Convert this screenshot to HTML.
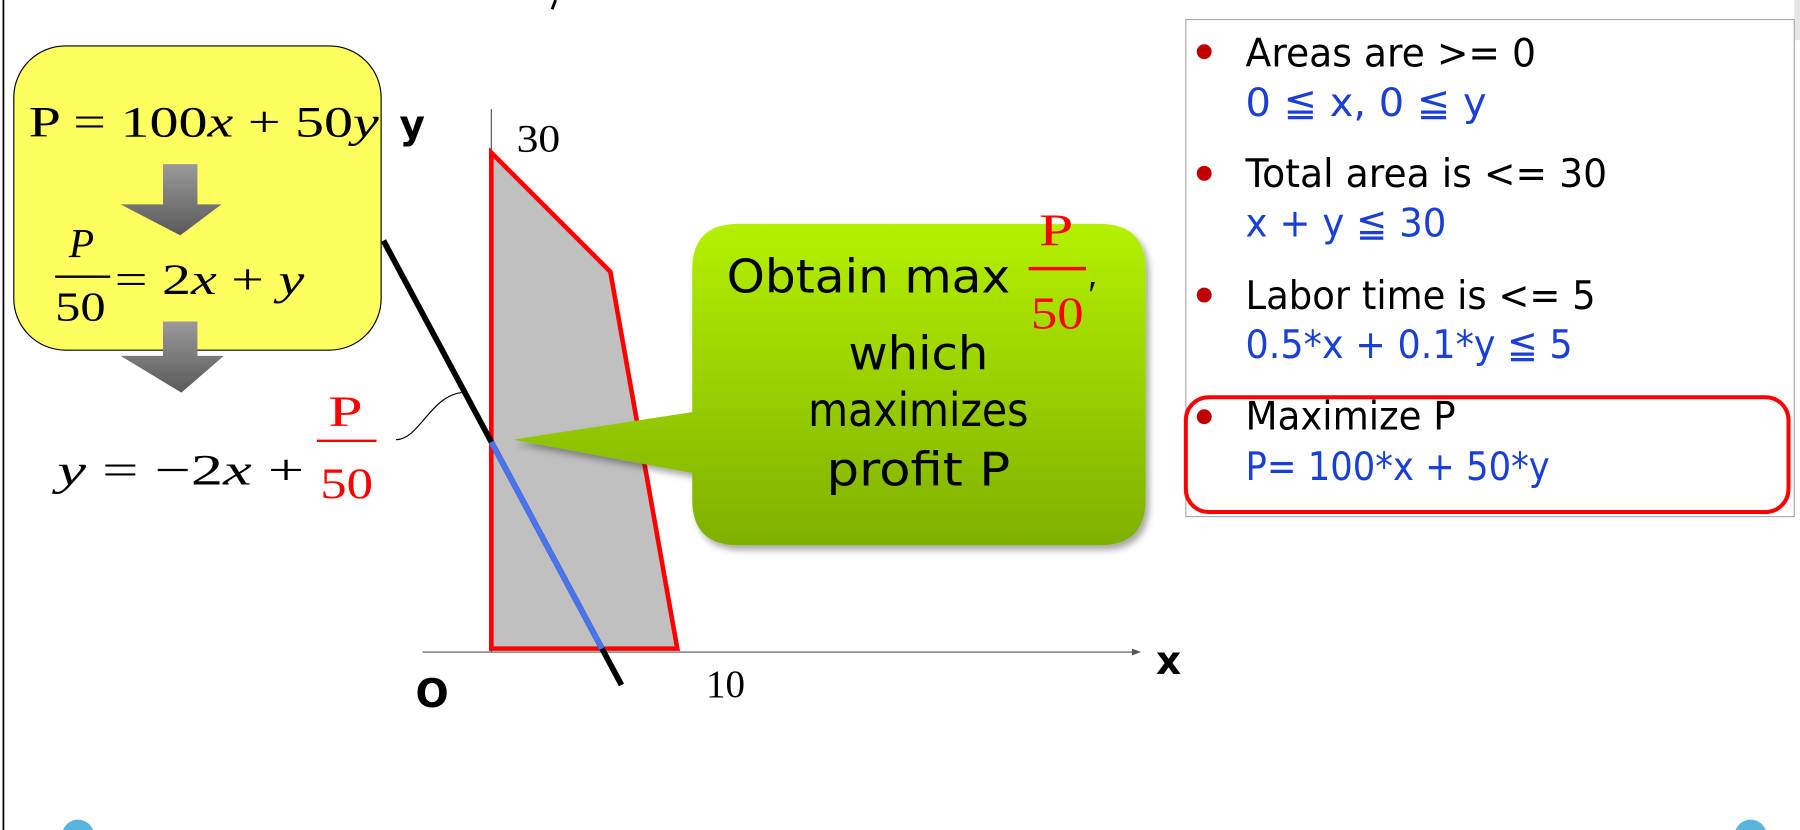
<!DOCTYPE html>
<html><head><meta charset="utf-8"><style>
html,body{margin:0;padding:0;background:#fff;width:1800px;height:830px;overflow:hidden}
svg{display:block}
.s{font-family:"DejaVu Sans","Liberation Sans",sans-serif}
.m{font-family:"Liberation Serif","DejaVu Serif",serif}
</style></head><body>
<svg id="chart" width="1800" height="830" viewBox="0 0 1568 723" xmlns="http://www.w3.org/2000/svg">
<defs>
<linearGradient id="arrowGrad" x1="0" y1="0" x2="0" y2="1"><stop offset="0" stop-color="#9a9a9a"/><stop offset="1" stop-color="#5a5a5a"/></linearGradient>
<linearGradient id="greenGrad" x1="0" y1="0" x2="0" y2="1"><stop offset="0" stop-color="#b4f000"/><stop offset="1" stop-color="#7fb000"/></linearGradient>
<filter id="sh" x="-10%" y="-10%" width="130%" height="130%"><feDropShadow dx="3" dy="4" stdDeviation="3" flood-color="#000" flood-opacity="0.35"/></filter>
</defs>
<line x1="3" y1="0" x2="3" y2="723" stroke="#000" stroke-width="1.5"/>
<rect x="1563" y="0" width="5" height="35" fill="#e6e6e6"/>
<line x1="484" y1="0" x2="481" y2="8" stroke="#000" stroke-width="2.5"/>

<g>
<rect x="12" y="40" width="320" height="265" rx="45" fill="#ffff60" stroke="#000" stroke-width="1"/>
<text class="m" x="25" y="119" font-size="38" textLength="305" lengthAdjust="spacingAndGlyphs">P = 100<tspan font-style="italic">x</tspan> + 50<tspan font-style="italic">y</tspan></text>
<polygon points="142,143 172,143 172,178 193,178 157,205 105,178 142,178" fill="url(#arrowGrad)"/>
<text class="m" x="60" y="224" font-size="36" font-style="italic" textLength="22" lengthAdjust="spacingAndGlyphs">P</text>
<line x1="48" y1="241" x2="96" y2="241" stroke="#000" stroke-width="2"/>
<text class="m" x="48" y="279" font-size="36" textLength="44" lengthAdjust="spacingAndGlyphs">50</text>
<text class="m" x="100" y="256" font-size="38" textLength="165" lengthAdjust="spacingAndGlyphs">= 2<tspan font-style="italic">x</tspan> + <tspan font-style="italic">y</tspan></text>
<polygon points="142,280 172,280 172,310 195,310 158,342 105,310 142,310" fill="url(#arrowGrad)"/>
</g>
<g>
<text class="m" x="50" y="422" font-size="38" textLength="215" lengthAdjust="spacingAndGlyphs"><tspan font-style="italic">y</tspan> = −2<tspan font-style="italic">x</tspan> +</text>
<text class="m" x="286" y="371" font-size="38" fill="#f00" textLength="30" lengthAdjust="spacingAndGlyphs">P</text>
<line x1="276" y1="384" x2="328" y2="384" stroke="#f00" stroke-width="2"/>
<text class="m" x="279" y="434" font-size="38" fill="#f00" textLength="46" lengthAdjust="spacingAndGlyphs">50</text>
<path d="M345,383 C365,383 375,345 402,342" fill="none" stroke="#000" stroke-width="1"/>
</g>

<g id="plot"></g>

<g filter="url(#sh)">
<path d="M643,195 H958 Q998,195 998,235 V435 Q998,475 958,475 H643 Q603,475 603,435 V412 L447,383 L603,359 V235 Q603,195 643,195 Z" fill="url(#greenGrad)"/>
</g>
<g class="s" font-size="40" fill="#000">
<text x="633" y="255" textLength="247" lengthAdjust="spacingAndGlyphs">Obtain max</text>
<text class="m" x="905" y="214" font-size="40" fill="#f00" textLength="30" lengthAdjust="spacingAndGlyphs">P</text>
<line x1="896" y1="234" x2="946" y2="234" stroke="#f00" stroke-width="3"/>
<text class="m" x="898" y="286" font-size="40" fill="#f00" textLength="46" lengthAdjust="spacingAndGlyphs">50</text>
<text class="m" x="948" y="268" font-size="34">′</text>
<text x="800" y="322" text-anchor="middle" textLength="122" lengthAdjust="spacingAndGlyphs">which</text>
<text x="800" y="371" text-anchor="middle" textLength="192" lengthAdjust="spacingAndGlyphs">maximizes</text>
<text x="800" y="423" text-anchor="middle" textLength="160" lengthAdjust="spacingAndGlyphs">profit P</text>
</g>

<g class="s" font-size="34">
<rect x="1033" y="17" width="530" height="433" fill="#fff" stroke="#aaa" stroke-width="1"/>
<circle cx="1049" cy="45" r="6.5" fill="#c00000"/>
<text x="1085" y="58" textLength="253" lengthAdjust="spacingAndGlyphs">Areas are &gt;= 0</text>
<text x="1085" y="101" fill="#1a3fd6" textLength="210" lengthAdjust="spacingAndGlyphs">0 ≦ x, 0 ≦ y</text>
<circle cx="1049" cy="151" r="6.5" fill="#c00000"/>
<text x="1085" y="163" textLength="315" lengthAdjust="spacingAndGlyphs">Total area is &lt;= 30</text>
<text x="1085" y="206" fill="#1a3fd6" textLength="175" lengthAdjust="spacingAndGlyphs">x + y ≦ 30</text>
<circle cx="1049" cy="257" r="6.5" fill="#c00000"/>
<text x="1085" y="269" textLength="305" lengthAdjust="spacingAndGlyphs">Labor time is &lt;= 5</text>
<text x="1085" y="312" fill="#1a3fd6" textLength="285" lengthAdjust="spacingAndGlyphs">0.5*x + 0.1*y ≦ 5</text>
<circle cx="1049" cy="363" r="6.5" fill="#c00000"/>
<text x="1085" y="374" textLength="183" lengthAdjust="spacingAndGlyphs">Maximize P</text>
<text x="1085" y="418" fill="#1a3fd6" textLength="265" lengthAdjust="spacingAndGlyphs">P= 100*x + 50*y</text>
<rect x="1033" y="346" width="525" height="100" rx="20" fill="none" stroke="#f00" stroke-width="3.5"/>
</g>

<circle cx="68" cy="728" r="14" fill="#5ab4e0"/>
<circle cx="1525" cy="728" r="14" fill="#5ab4e0"/>
</svg>
<script>
const polyX = [0, 0, 6.4, 10];
const polyY = [0, 30, 22.8, 0];
const lineIntercept = [12.5];
const lineSlope = [-2.1];
const lineXRange = [-5.8, 7.0];
const xTickLabels = ["10"];
const xTickValues = [10];
const yTickLabels = ["30"];
const yTickValues = [30];

const NS = "http://www.w3.org/2000/svg";
const g = document.getElementById('plot');
const X0 = 428, Y0 = 565, XS = 16.2, YS = 14.4;
function sx(v){ return X0 + v * XS; }
function sy(v){ return Y0 - v * YS; }
function mk(tag, attrs){ const e = document.createElementNS(NS, tag); for (const k in attrs) e.setAttribute(k, attrs[k]); g.appendChild(e); return e; }

const xa = mk('line', {x1: 368, y1: sy(0)+3, x2: 988, y2: sy(0)+3, stroke: '#555', 'stroke-width': 1});


const xh = mk('polygon', {points: `${994},${sy(0)+3} ${986},${sy(0)} ${986},${sy(0)+6}`, fill: '#555'});


const ya = mk('line', {x1: sx(0), y1: 95, x2: sx(0), y2: sy(0)+3, stroke: '#555', 'stroke-width': 1});



const pts = polyX.map((x, i) => sx(x) + ',' + sy(polyY[i])).join(' ');
const poly = mk('polygon', {points: pts, fill: '#c0c0c0', stroke: '#f00', 'stroke-width': 4, 'stroke-linejoin': 'miter'});



const f = x => lineSlope[0] * x + lineIntercept[0];
const bl = mk('line', {x1: sx(lineXRange[0]), y1: sy(f(lineXRange[0])), x2: sx(lineXRange[1]), y2: sy(f(lineXRange[1])), stroke: '#000', 'stroke-width': 5});


const xEnd = -lineIntercept[0] / lineSlope[0];
const blu = mk('line', {x1: sx(0), y1: sy(f(0)), x2: sx(xEnd), y2: sy(0), stroke: '#4a74ee', 'stroke-width': 5});



xTickValues.forEach((v, i) => {
  const t = mk('text', {x: sx(v) + 25, y: 607, 'font-size': 34, 'font-family': '"Liberation Serif",serif', textLength: 34, lengthAdjust: 'spacingAndGlyphs'});
  t.textContent = xTickLabels[i];
  
  
});
yTickValues.forEach((v, i) => {
  const t = mk('text', {x: sx(0) + 22, y: sy(v) - 1, 'font-size': 34, 'font-family': '"Liberation Serif",serif', textLength: 38, lengthAdjust: 'spacingAndGlyphs'});
  t.textContent = yTickLabels[i];
  
  
});
const lbls = [['y', 348, 120, 'y-axis-title'], ['x', 1007, 587, 'x-axis-title'], ['O', 362, 616, 'origin-label']];
lbls.forEach(l => {
  const t = mk('text', {x: l[1], y: l[2], 'font-size': 34, 'font-weight': 'bold', 'font-family': '"DejaVu Sans",sans-serif'});
  t.textContent = l[0];
  
  
});
</script>
</body></html>
